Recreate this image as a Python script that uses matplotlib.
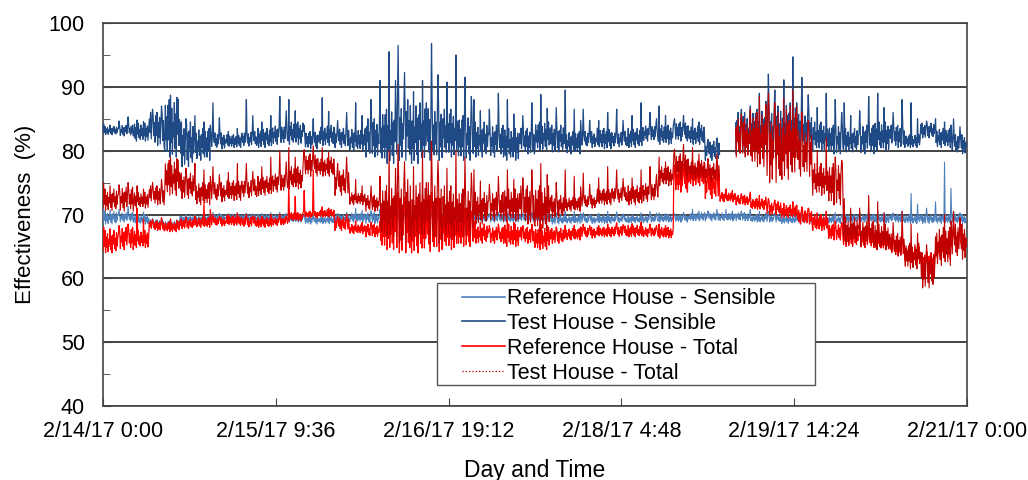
import numpy as np
import pandas as pd
import matplotlib
matplotlib.use("Agg")
import matplotlib.pyplot as plt
from matplotlib.lines import Line2D
from matplotlib.patches import Rectangle
from matplotlib.ticker import MultipleLocator

plt.rcParams['font.family'] = ['Liberation Sans', 'DejaVu Sans']

START = "2017-02-14 00:00"
BIN_HOURS = 3  # each value below is the envelope of one 3-hour window

tick_labels = ["2/14/17 0:00", "2/15/17 9:36", "2/16/17 19:12",
               "2/18/17 4:48", "2/19/17 14:24", "2/21/17 0:00"]

# Reference House - Sensible
rs_lo = [68.5, 68.8, 68.5, 68.0, 67.8, 68.8, 68.8, 69.0, 69.0, 69.0,
         69.0, 69.0, 68.8, 68.5, 68.6, 68.8, 68.8, 68.6, 68.8, 68.8,
         68.8, 68.8, 68.8, 68.8, 68.8, 68.8, 68.8, 68.8, 68.8, 68.5,
         68.6, 68.6, 68.6, 68.7, 68.7, 68.7, 68.8, 68.8, 69.0, 69.0,
         69.0, 69.0, 68.8, 68.8, 68.6, 68.6, 68.6, 68.6, 68.8, 68.8,
         68.7, 68.8, 68.6, 68.6, 68.6, 68.6]
rs_hi = [70.5, 70.3, 70.0, 69.2, 69.0, 69.8, 69.8, 70.0, 70.0, 70.0,
         70.0, 70.0, 69.8, 69.7, 69.7, 70.0, 70.3, 70.3, 70.0, 70.0,
         70.0, 70.0, 70.0, 70.0, 70.0, 70.0, 70.0, 70.0, 70.0, 69.9,
         69.8, 69.8, 69.9, 69.8, 69.8, 69.9, 70.0, 70.0, 70.3, 70.3,
         70.3, 70.3, 70.0, 70.0, 69.8, 69.8, 69.8, 69.8, 70.0, 70.0,
         70.0, 70.0, 70.0, 70.0, 70.0, 70.0]
rs_pk = [71.0, 71.3, 70.8, 69.5, 69.3, 70.0, 70.2, 70.3, 70.3, 70.2,
         70.3, 70.3, 70.1, 70.0, 70.0, 70.3, 71.0, 70.8, 70.3, 70.3,
         70.3, 70.3, 70.3, 70.3, 70.3, 70.3, 70.3, 70.3, 70.3, 70.5,
         70.5, 70.3, 70.5, 70.4, 70.3, 70.5, 70.3, 70.3, 70.8, 70.8,
         70.8, 70.8, 70.5, 70.5, 70.3, 70.3, 70.3, 70.3, 70.5, 70.5,
         70.5, 70.5, 73.3, 72.0, 78.2, 70.5]

# Test House - Sensible
ts_lo = [82.5, 82.3, 81.5, 80.8, 79.0, 77.5, 78.5, 80.3, 80.5, 80.6,
         80.5, 81.0, 81.0, 80.3, 80.8, 80.5, 80.0, 79.0, 78.0, 78.5,
         78.0, 78.5, 79.0, 78.5, 79.0, 79.0, 78.5, 79.5, 80.0, 79.8,
         79.5, 80.5, 80.3, 80.5, 80.5, 81.5, 81.0, 81.5, 81.0, 78.5,
         None, 79.5, 80.0, 79.0, 79.5, 80.5, 80.0, 79.5, 79.8, 79.5,
         80.0, 80.5, 80.5, 82.0, 80.5, 79.5]
ts_hi = [83.8, 84.0, 84.3, 86.0, 88.0, 84.5, 83.5, 82.8, 82.5, 83.0,
         83.5, 84.0, 84.5, 83.0, 84.0, 83.5, 83.5, 85.0, 86.5, 88.0,
         87.5, 87.0, 86.5, 85.5, 84.5, 84.0, 83.5, 83.5, 84.5, 84.0,
         83.0, 83.0, 83.5, 83.0, 83.5, 84.0, 84.0, 84.5, 84.0, 81.5,
         None, 86.0, 86.5, 87.0, 87.5, 86.0, 84.5, 84.0, 83.5, 84.0,
         84.5, 84.0, 82.5, 84.3, 83.5, 82.5]
ts_pk = [84.2, 85.3, 84.8, 87.0, 88.7, 85.5, 84.5, 87.5, 83.5, 88.0,
         85.5, 88.5, 88.0, 85.0, 88.3, 86.0, 87.5, 91.0, 95.5, 96.5,
         91.0, 96.8, 95.0, 91.5, 88.0, 89.0, 88.0, 87.5, 88.8, 89.5,
         86.5, 86.5, 86.0, 86.5, 87.5, 86.0, 87.0, 85.5, 85.0, 82.0,
         None, 87.0, 89.0, 92.0, 94.7, 91.5, 89.0, 88.0, 87.5, 88.5,
         89.0, 88.0, 87.5, 85.0, 84.5, 85.0]

# Reference House - Total
rt_lo = [64.0, 64.5, 64.8, 67.5, 67.3, 67.8, 68.0, 68.2, 68.3, 68.0,
         68.0, 68.3, 69.0, 69.5, 69.6, 67.5, 67.0, 66.5, 64.5, 64.0,
         64.0, 64.2, 64.5, 65.0, 65.5, 65.5, 65.0, 65.5, 64.5, 65.5,
         66.0, 66.3, 66.5, 66.5, 66.5, 66.5, 66.3, 73.5, 74.5, 72.5,
         72.0, 71.5, 70.8, 70.0, 69.5, 68.5, 67.5, 66.0, 65.0, 64.8,
         64.5, 63.5, 62.5, 61.5, 63.0, 64.5]
rt_hi = [67.5, 68.0, 67.5, 69.0, 68.8, 69.3, 69.5, 69.5, 69.8, 69.6,
         69.5, 69.5, 70.3, 70.5, 70.8, 69.5, 68.5, 68.5, 71.5, 72.0,
         71.5, 72.0, 71.0, 70.0, 68.5, 68.0, 68.5, 68.0, 68.0, 67.8,
         67.8, 68.0, 68.0, 68.2, 68.3, 68.0, 68.0, 77.5, 78.0, 76.5,
         73.5, 73.0, 72.5, 72.0, 71.5, 70.8, 70.0, 68.5, 68.0, 67.5,
         67.0, 66.0, 65.0, 64.0, 66.0, 67.5]
rt_pk = [68.0, 68.5, 71.0, 69.5, 69.3, 69.8, 72.0, 70.0, 70.2, 70.0,
         70.0, 70.0, 75.3, 77.0, 71.2, 70.0, 69.0, 69.0, 73.0, 73.5,
         73.0, 73.5, 72.5, 71.0, 69.0, 68.5, 69.0, 68.5, 68.5, 68.3,
         68.3, 68.5, 68.5, 68.7, 68.8, 68.5, 68.5, 78.0, 78.5, 77.5,
         74.0, 73.5, 73.0, 72.5, 72.0, 71.2, 70.5, 69.0, 68.5, 68.0,
         67.5, 66.5, 65.5, 64.5, 66.5, 68.0]

# Test House - Total
tt_lo = [70.6, 70.5, 71.0, 71.5, 73.0, 72.5, 71.5, 72.0, 72.2, 72.5,
         73.0, 73.5, 74.0, 76.0, 76.0, 73.0, 71.5, 70.5, 66.5, 65.5,
         66.0, 65.5, 66.0, 66.5, 68.5, 69.0, 69.0, 68.5, 67.5, 69.5,
         70.5, 71.0, 71.5, 71.8, 71.5, 72.0, 74.5, 75.5, 75.5, 75.0,
         None, 79.0, 77.5, 75.0, 75.5, 76.0, 73.0, 71.5, 65.5, 65.0,
         64.5, 63.5, 61.5, 58.5, 62.0, 63.0]
tt_hi = [74.0, 74.3, 73.5, 74.5, 78.5, 76.5, 75.0, 75.0, 75.3, 75.5,
         76.0, 76.5, 77.5, 79.5, 79.0, 77.0, 73.5, 73.0, 74.5, 75.5,
         75.0, 75.5, 74.5, 74.0, 73.5, 73.5, 74.0, 74.5, 74.5, 73.0,
         72.7, 73.0, 74.0, 74.3, 74.5, 75.0, 77.5, 79.5, 78.5, 78.0,
         None, 85.0, 86.0, 86.0, 87.0, 83.5, 78.0, 78.0, 69.5, 69.0,
         68.5, 67.0, 65.5, 64.0, 68.0, 68.5]
tt_pk = [75.0, 75.0, 74.5, 75.5, 79.0, 78.0, 77.0, 77.5, 78.0, 78.0,
         79.0, 80.0, 80.5, 80.8, 80.5, 79.0, 75.5, 76.0, 80.0, 81.0,
         80.0, 81.5, 80.0, 79.0, 77.0, 76.0, 77.0, 77.0, 78.0, 77.0,
         76.0, 76.5, 77.5, 77.0, 77.0, 77.5, 79.0, 81.0, 80.5, 79.5,
         None, 86.5, 88.5, 89.0, 89.5, 86.0, 82.0, 79.0, 72.5, 73.0,
         72.0, 70.5, 68.5, 66.5, 70.0, 70.5]

# scribble used to draw each window between its low and high envelope
SCRIBBLE = np.array([0.1, 0.9, 0.3, 1.0, 0.0, 0.7, 0.25, 0.85, 0.05, 0.6, 0.35, 0.95,
                     0.15, 0.75, 0.0, 0.8, 0.4, 1.0, 0.2, 0.65, 0.1, 0.9, 0.3, 0.7])


def trace(lo, hi, pk):
    lo, hi, pk = (np.asarray(a, dtype=float) for a in (lo, hi, pk))
    per_bin = len(SCRIBBLE)
    n = np.arange(len(lo) * per_bin)
    i, k = n // per_bin, n % per_bin
    frac = SCRIBBLE[(k + 5 * i) % per_bin]
    y = lo[i] + frac * (hi[i] - lo[i])
    # one excursion to the window's peak, and a smaller one half way up
    y = np.where(k == 2 * ((i * 7) % (per_bin // 2)) + 1, pk[i], y)
    y = np.where(k == 2 * ((i * 7 + 5) % (per_bin // 2)) + 1, (hi[i] + pk[i]) / 2, y)
    x = pd.Timestamp(START) + pd.to_timedelta(n * BIN_HOURS / per_bin, unit="h")
    return x, y


fig = plt.figure(figsize=(10.28, 4.8), dpi=100)
ax = fig.add_axes([0.1002, 0.1542, 0.8405, 0.7978])

series = [
    ("Reference House - Sensible", (rs_lo, rs_hi, rs_pk), "#4F81BD", 0.8, "-"),
    ("Test House - Sensible", (ts_lo, ts_hi, ts_pk), "#1F4A85", 0.9, "-"),
    ("Reference House - Total", (rt_lo, rt_hi, rt_pk), "#FF0000", 0.9, "-"),
    ("Test House - Total", (tt_lo, tt_hi, tt_pk), "#C00000", 0.8, ":"),
]
handles = []
for label, env, color, lw, ls in series:
    x, y = trace(*env)
    ax.plot(x, y, color=color, lw=lw, zorder=3)
    handles.append(Line2D([], [], color=color, lw=1.2 if ls == "-" else 0.9,
                          ls=ls, label=label))

ticks = pd.to_datetime(tick_labels, format="%m/%d/%y %H:%M")
ax.set_xlim(ticks[0], ticks[-1])
ax.set_xticks(ticks)
ax.set_xticklabels(tick_labels)
ax.set_ylim(40, 100)
ax.yaxis.set_major_locator(MultipleLocator(10))
ax.yaxis.set_minor_locator(MultipleLocator(5))

ax.grid(axis="y", which="major", color="#222222", lw=1.2)
ax.set_axisbelow(True)
for s in ax.spines.values():
    s.set_color("#444444")
    s.set_linewidth(1.2)

ax.tick_params(axis="both", which="major", direction="in", length=6,
               labelsize=15.5, color="#444444")
ax.tick_params(axis="y", which="minor", direction="in", length=5, color="#444444")
ax.tick_params(axis="y", pad=13)
ax.tick_params(axis="x", pad=11)

ax.set_ylabel("Effectiveness  (%)", fontsize=16, labelpad=9)
ax.set_xlabel("Day and Time", fontsize=16.5, labelpad=12)

ax.add_patch(Rectangle((0.3866, 0.0548), 0.4375, 0.2663, transform=ax.transAxes,
                       facecolor="white", edgecolor="#555555", lw=1.0, zorder=5))
leg = ax.legend(handles=handles, loc="upper left", bbox_to_anchor=(0.415, 0.308),
                frameon=False, fontsize=15.5, handlelength=2.0, handletextpad=0.12,
                labelspacing=0.18, borderpad=0, borderaxespad=0)
leg.set_zorder(6)

fig.savefig("out.png", dpi=100)
